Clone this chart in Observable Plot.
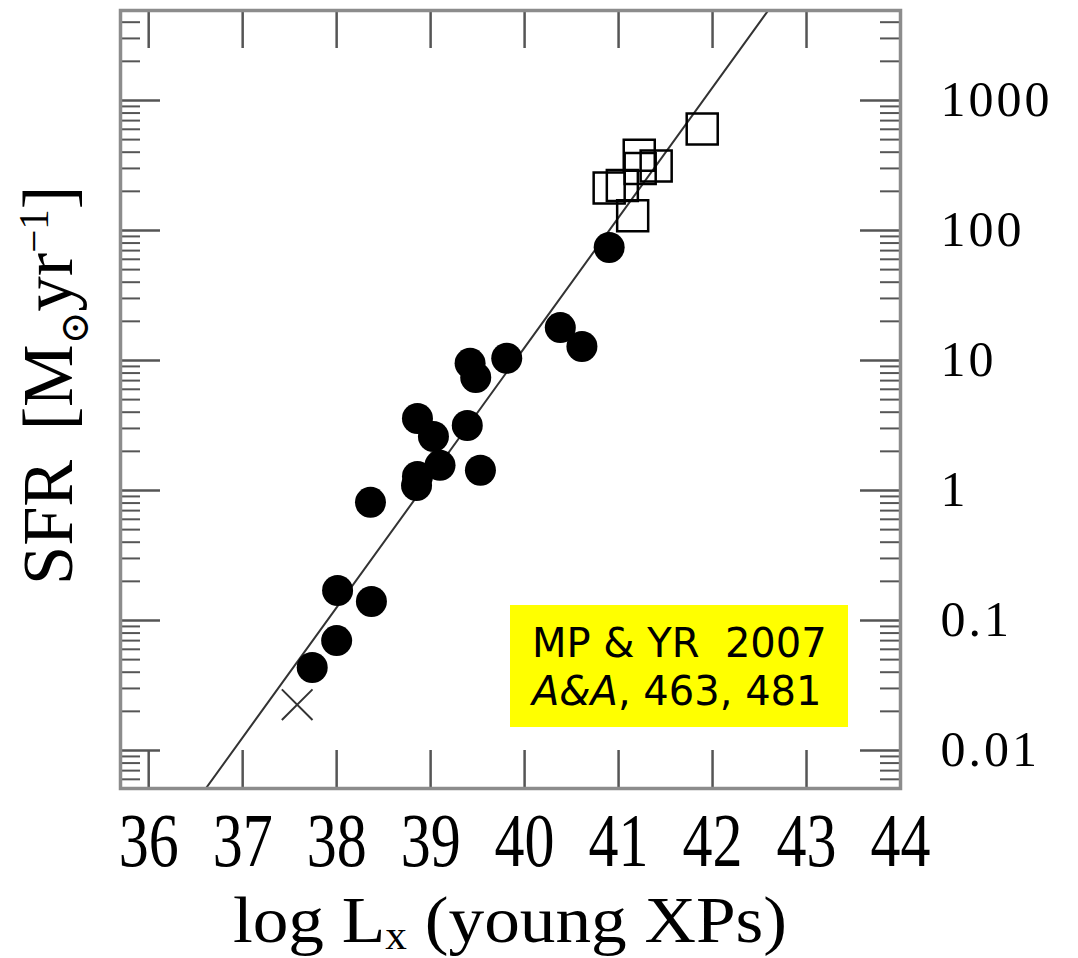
<!DOCTYPE html>
<html>
<head>
<meta charset="utf-8">
<script src="https://cdn.jsdelivr.net/npm/d3@7"></script>
<script src="https://cdn.jsdelivr.net/npm/@observablehq/plot@0.6"></script>
<style>
  body { margin: 0; background: #fff; }
  #wrap { position: relative; width: 1078px; height: 958px; }
  #note {
    position: absolute; left: 510px; top: 605px; width: 338px; height: 122px;
    background: #ffff00; box-sizing: border-box; padding: 14px 0 0 22px;
    font-family: "DejaVu Sans"; font-size: 40px; line-height: 48px; color: #000;
    white-space: pre;
  }
</style>
</head>
<body>
<div id="wrap"></div>
<script>
// ---- data ----
// filled circles: normal star-forming galaxies
const galaxyLogLx = [37.74, 38.00, 38.01, 38.37, 38.36, 38.85, 38.86, 39.10, 39.53, 38.86, 39.03, 39.39, 39.42, 39.48, 39.81, 40.38, 40.61, 40.90];
const galaxySFR   = [0.0435, 0.070, 0.170, 0.140, 0.81, 1.09, 1.28, 1.56, 1.43, 3.58, 2.60, 3.16, 9.5, 7.4, 10.4, 17.9, 12.8, 74];
// open squares: ULIRGs
const ulirgLogLx = [41.89, 41.22, 41.40, 41.23, 40.90, 41.04, 41.15];
const ulirgSFR   = [604, 379, 313, 300, 212, 222, 130];
// cross
const crossLogLx = [37.58];
const crossSFR   = [0.0225];
// fitted relation: log SFR = slope * log Lx + intercept
const fitSlope = 1.0;
const fitIntercept = -38.9;

const xDomain = [35.7, 44];
const yDomain = [0.0051, 4920];
const xTicks = [36, 37, 38, 39, 40, 41, 42, 43, 44];
const yTicks = [0.01, 0.1, 1, 10, 100, 1000];
const yTickLabels = ["0.01", "0.1", "1", "10", "100", "1000"];
const noteLines = ["MP & YR  2007", "A&A", ", 463, 481"];

// ---- derived tables ----
const galaxies = galaxyLogLx.map((x, i) => ({x, y: galaxySFR[i]}));
const ulirgs = ulirgLogLx.map((x, i) => ({x, y: ulirgSFR[i]}));
const crosses = crossLogLx.map((x, i) => ({x, y: crossSFR[i]}));
const fitLine = xDomain.map(x => ({x, y: Math.pow(10, fitSlope * x + fitIntercept)}));
const yMinor = [];
for (const d of [0.001, 0.01, 0.1, 1, 10, 100, 1000]) for (let m = 2; m <= 9; m++) {
  const v = d * m; if (v > yDomain[0] && v < yDomain[1]) yMinor.push(v);
}
const yLabelMap = new Map(yTicks.map((t, i) => [t, yTickLabels[i]]));

const W = 1078, H = 958, mL = 120, mR = 178, mT = 10, mB = 170;
const innerW = W - mL - mR, innerH = H - mT - mB;
const majorY = 40, minorY = 20, majorX = 38;
const tickColor = "#555";

const svg = Plot.plot({
  width: W, height: H,
  marginLeft: mL, marginRight: mR, marginTop: mT, marginBottom: mB,
  style: {fontFamily: "Liberation Serif", background: "#fff", color: "#000"},
  x: {type: "linear", domain: xDomain},
  y: {type: "log", domain: yDomain},
  marks: [
    Plot.line(fitLine, {x: "x", y: "y", stroke: "#333", strokeWidth: 2, clip: true}),
    Plot.tickY(yTicks, {y: d => d, insetRight: innerW - majorY, stroke: tickColor, strokeWidth: 2.5}),
    Plot.tickY(yTicks, {y: d => d, insetLeft: innerW - majorY, stroke: tickColor, strokeWidth: 2.5}),
    Plot.tickY(yMinor, {y: d => d, insetRight: innerW - minorY, stroke: tickColor, strokeWidth: 2}),
    Plot.tickY(yMinor, {y: d => d, insetLeft: innerW - minorY, stroke: tickColor, strokeWidth: 2}),
    Plot.tickX(xTicks, {x: d => d, insetBottom: innerH - majorX, stroke: tickColor, strokeWidth: 2.5}),
    Plot.tickX(xTicks, {x: d => d, insetTop: innerH - majorX, stroke: tickColor, strokeWidth: 2.5}),
    Plot.frame({stroke: "#8c8c8c", strokeWidth: 3.5}),
    Plot.axisX(xTicks, {anchor: "bottom", tickSize: 0, tickPadding: 24, fontSize: 60, label: null}),
    Plot.axisY(yTicks, {anchor: "right", tickSize: 0, tickPadding: 40, fontSize: 50, label: null, tickFormat: d => yLabelMap.get(d)}),
    Plot.dot(ulirgs, {x: "x", y: "y", symbol: "square", r: 17.5, stroke: "#000", strokeWidth: 2.5, fill: "none"}),
    Plot.dot(crosses, {x: "x", y: "y", symbol: "times", r: 14, stroke: "#333", strokeWidth: 2}),
    Plot.dot(galaxies, {x: "x", y: "y", r: 15.5, fill: "#000"})
  ]
});

const wrap = document.getElementById("wrap");
wrap.appendChild(svg);
const s = d3.select(svg);

// tall Computer-Modern look for x tick labels
s.selectAll('g[aria-label="x-axis tick label"] text').attr("transform", function () {
  return (this.getAttribute("transform") || "") + " scale(1,1.26)";
});
s.selectAll('g[aria-label="y-axis tick label"]').attr("letter-spacing", 3);

// y-axis title (rotated), spanning from the lower end upward
const yTitleLength = 370;
const yg = s.append("g").attr("transform", "translate(72,585) rotate(-90)");
const yInner = yg.append("g");
const yt = yInner.append("text")
  .attr("font-family", "Liberation Serif")
  .attr("font-size", 72)
  .attr("text-anchor", "start")
  .attr("fill", "#000");
yt.append("tspan").text("SFR");
yt.append("tspan").attr("dx", 30).text("[M");
yt.append("tspan").attr("dy", 16).attr("font-size", 40).attr("font-family", "DejaVu Serif").text("⊙");
yt.append("tspan").attr("dy", -16).text("yr");
yt.append("tspan").attr("dy", -24).attr("font-size", 42).text("−1");
yt.append("tspan").attr("dy", 24).text("]");
const ytLen = yt.node().getComputedTextLength();
if (ytLen > 0) yInner.attr("transform", `scale(${yTitleLength / ytLen},1)`);

// x-axis title
const xt = s.append("text")
  .attr("transform", `translate(${mL + innerW / 2},942) scale(1.08,1)`)
  .attr("text-anchor", "middle")
  .attr("font-family", "Liberation Serif")
  .attr("font-size", 66)
  .attr("fill", "#000");
xt.append("tspan").text("log L");
xt.append("tspan").attr("dy", 7).attr("font-size", 40).text("x");
xt.append("tspan").attr("dy", -7).text(" (young XPs)");

const note = document.createElement("div");
note.id = "note";
const l1 = document.createElement("div"); l1.textContent = noteLines[0];
const l2 = document.createElement("div");
const it = document.createElement("i"); it.textContent = noteLines[1];
l2.appendChild(it); l2.appendChild(document.createTextNode(noteLines[2]));
note.appendChild(l1); note.appendChild(l2);
wrap.appendChild(note);
</script>
</body>
</html>
